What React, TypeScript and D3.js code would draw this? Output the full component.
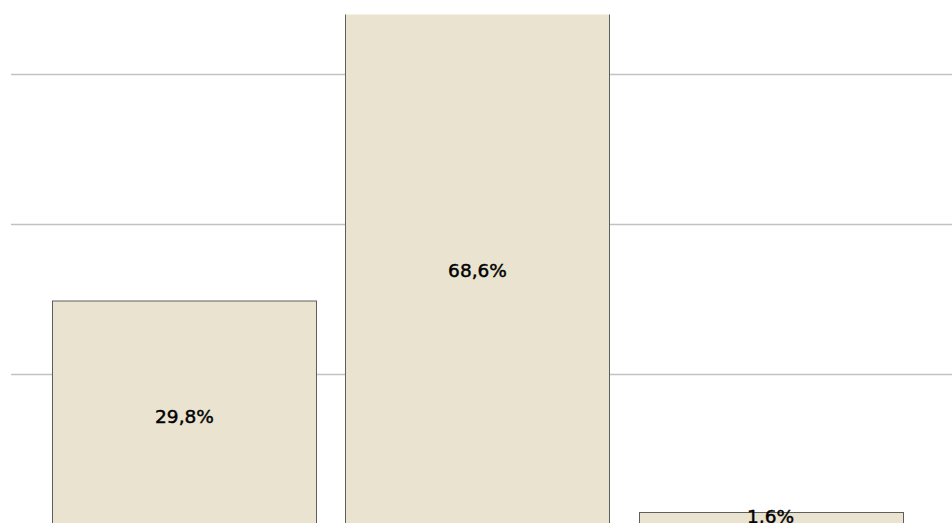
import React, { useRef, useEffect } from "react";
import * as d3 from "d3";

const categories = ["A", "B", "C"];
const percents = [29.8, 68.6, 1.6];
const gridTicks = [20, 40, 60];

const width = 952;
const height = 523;

const App: React.FC = () => {
  const svgRef = useRef<SVGSVGElement | null>(null);

  useEffect(() => {
    const svg = d3.select(svgRef.current);
    svg.selectAll("*").remove();

    const plotTop = 14.5;
    const x = d3
      .scaleBand<string>()
      .domain(categories)
      .range([11, 944])
      .paddingInner(0.099)
      .paddingOuter(0.1416);

    const y = d3.scaleLinear().domain([0, 60]).range([524.5, 74.5]);

    // grid
    svg
      .append("g")
      .selectAll("line")
      .data(gridTicks)
      .enter()
      .append("line")
      .attr("x1", 11)
      .attr("x2", width)
      .attr("y1", (d) => y(d))
      .attr("y2", (d) => y(d))
      .attr("stroke", "#c2c2c2")
      .attr("stroke-width", 1.5);

    svg
      .append("defs")
      .append("clipPath")
      .attr("id", "plot-clip")
      .append("rect")
      .attr("x", 0)
      .attr("y", plotTop)
      .attr("width", width)
      .attr("height", height);

    const rows = categories.map((c, i) => ({ c, v: percents[i] }));

    // bars
    svg
      .append("g")
      .attr("clip-path", "url(#plot-clip)")
      .selectAll("rect")
      .data(rows)
      .enter()
      .append("rect")
      .attr("x", (d) => Math.round(x(d.c) as number) + 0.5)
      .attr("y", (d) => y(d.v))
      .attr("width", Math.round(x.bandwidth()))
      .attr("height", (d) => y(0) - y(d.v))
      .attr("fill", "#e9e3cf")
      .attr("stroke", "#5e5e5e")
      .attr("stroke-width", 1);

    // labels
    svg
      .append("g")
      .selectAll("text")
      .data(rows)
      .enter()
      .append("text")
      .attr("x", (d) => (x(d.c) as number) + x.bandwidth() / 2)
      .attr("y", (d) => {
        const h = y(0) - y(d.v);
        return h > 30 ? y(d.v / 2) + 10 : y(d.v / 2) + 4;
      })
      .attr("text-anchor", "middle")
      .style("font-family", "'DejaVu Sans', sans-serif")
      .style("font-size", "18.5px")
      .attr("fill", "#000")
      .attr("stroke", "#000")
      .attr("stroke-width", 0.45)
      .text((d) => d3.format(".1f")(d.v).replace(".", ",") + "%");
  }, []);

  return (
    <svg
      ref={svgRef}
      width={width}
      height={height}
      style={{ position: "absolute", left: 0, top: 0, display: "block", background: "#fff" }}
    ></svg>
  );
};

export default App;
